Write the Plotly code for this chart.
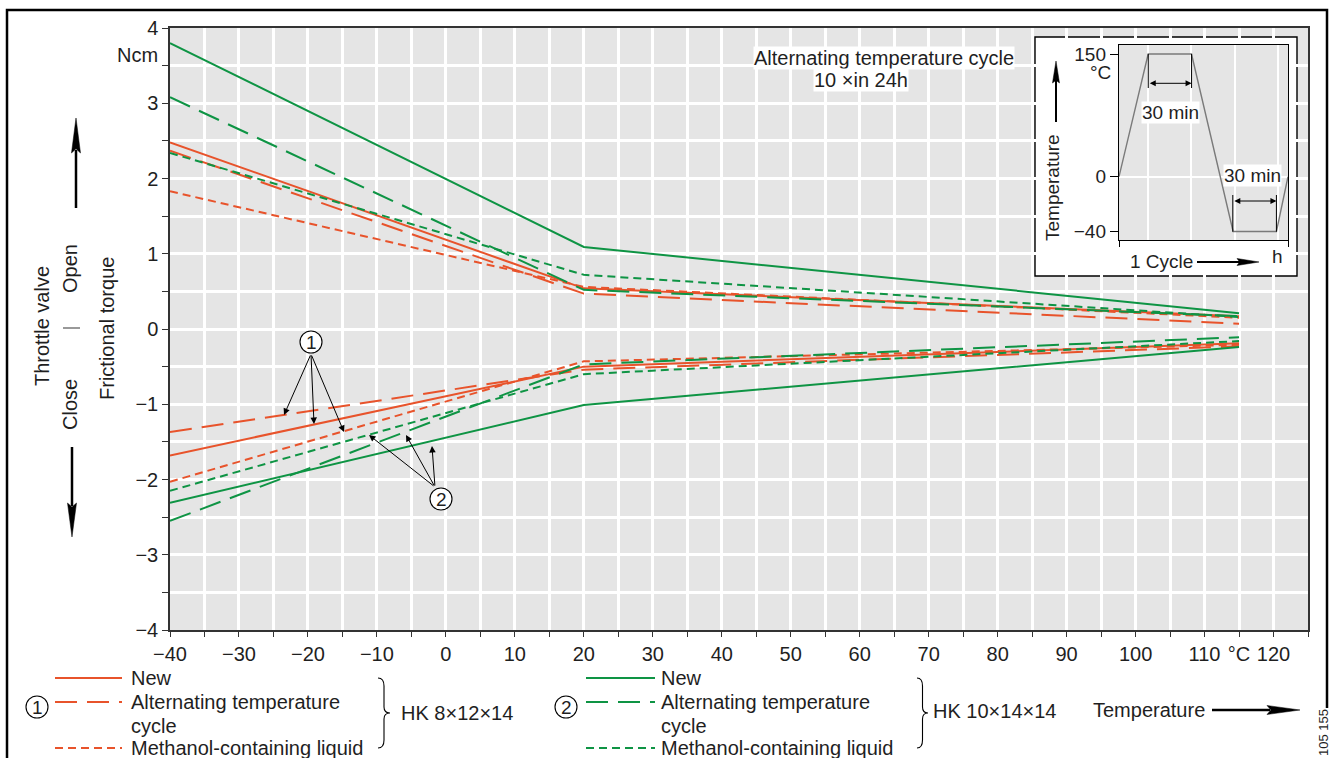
import math
import plotly.graph_objects as go

# ---------------- data ----------------
temps = [-40, 20, 115]          # °C, break points of every curve

# Open direction (positive torque), Ncm
hk8_new_open = [2.48, 0.54, 0.17]
hk8_alt_open = [2.37, 0.47, 0.07]
hk8_meth_open = [1.83, 0.56, 0.15]
hk10_new_open = [3.80, 1.09, 0.21]
hk10_alt_open = [3.08, 0.52, 0.17]
hk10_meth_open = [2.34, 0.72, 0.16]

# Close direction (negative torque), Ncm
hk8_new_close = [-1.68, -0.50, -0.19]
hk8_alt_close = [-1.37, -0.54, -0.23]
hk8_meth_close = [-2.03, -0.43, -0.21]
hk10_new_close = [-2.31, -1.01, -0.24]
hk10_alt_close = [-2.55, -0.47, -0.11]
hk10_meth_close = [-2.15, -0.60, -0.16]

x_ticks = list(range(-40, 126, 5))
y_ticks = [-4 + 0.5 * i for i in range(17)]

# inset: alternating temperature cycle (schematic)
inset_time = [0, 20.2, 50.2, 79, 109, 117]
inset_temp = [0, 150, 150, -40, -40, 0]
inset_levels = [150, 0, -40]
inset_level_pos = [150, 0, -67]     # schematic (not to scale) positions on the inset axis

legend_labels = ["New", "Alternating temperature", "cycle", "Methanol-containing liquid"]

# ---------------- style ----------------
RED = "#e8532b"
GREEN = "#0e9444"
BG = "#e5e5e5"
TXT = "#1f1f1f"
FONT = "Liberation Sans, Arial, sans-serif"
FS = 20
DASH = {"new": "solid", "alt": "22px,10px", "meth": "8px,5px"}

W, H = 1334, 758
PL, PR, PT, PB = 170, 1308, 28, 630


def px(x):
    return (x - PL) / (PR - PL)


def py(y):
    return (PB - y) / (PB - PT)


def dx(p):
    return -40 + (p - PL) / (PR - PL) * 165


def dy(p):
    return 4 - (p - PT) / (PB - PT) * 8


fig = go.Figure()

series = [
    (hk8_new_open, RED, "new"), (hk8_alt_open, RED, "alt"), (hk8_meth_open, RED, "meth"),
    (hk10_new_open, GREEN, "new"), (hk10_alt_open, GREEN, "alt"), (hk10_meth_open, GREEN, "meth"),
    (hk8_new_close, RED, "new"), (hk8_alt_close, RED, "alt"), (hk8_meth_close, RED, "meth"),
    (hk10_new_close, GREEN, "new"), (hk10_alt_close, GREEN, "alt"), (hk10_meth_close, GREEN, "meth"),
]
for ys, col, kind in series:
    fig.add_trace(go.Scatter(x=temps, y=ys, mode="lines",
                             line=dict(color=col, width=2, dash=DASH[kind]),
                             hoverinfo="skip", showlegend=False, xaxis="x", yaxis="y"))

# inset trace
pos_of = dict(zip(inset_levels, inset_level_pos))
fig.add_trace(go.Scatter(x=inset_time, y=[pos_of[t] for t in inset_temp], mode="lines",
                         line=dict(color="#7a7a7a", width=1.4), hoverinfo="skip",
                         showlegend=False, xaxis="x2", yaxis="y2"))


def fmt(v):
    s = str(abs(int(v)))
    return ("\u2212" + s) if v < 0 else s


xt_text = []
for v in x_ticks:
    if v % 10 == 0 and v <= 110:
        xt_text.append(fmt(v))
    elif v == 115:
        xt_text.append("°C")
    elif v == 120:
        xt_text.append("120")
    else:
        xt_text.append("")
yt_text = [fmt(v) if float(v).is_integer() else "" for v in y_ticks]

shapes = []
ann = []


def text(x, y, t, size=FS, xa="center", ya="middle", angle=0, bg=None, ref="paper", **kw):
    d = dict(x=x, y=y, text=t, showarrow=False, xanchor=xa, yanchor=ya, textangle=angle,
             font=dict(family=FONT, size=size, color=TXT), xref=ref if ref == "paper" else ref[0],
             yref=ref if ref == "paper" else ref[1], borderpad=0)
    if bg:
        d["bgcolor"] = bg
    d.update(kw)
    ann.append(d)


def ptext(x, y, t, **kw):
    text(px(x), py(y), t, **kw)


def arrow(x0, y0, x1, y1, hl, hw, lw=2.5, col="black"):
    L = math.hypot(x1 - x0, y1 - y0)
    ux, uy = (x1 - x0) / L, (y1 - y0) / L
    bx, by = x1 - ux * hl, y1 - uy * hl
    nx, ny = -uy, ux
    shapes.append(dict(type="line", xref="paper", yref="paper", layer="above",
                       x0=px(x0), y0=py(y0), x1=px(bx + ux * 3), y1=py(by + uy * 3),
                       line=dict(color=col, width=lw)))
    pts = [(x1, y1), (bx + nx * hw / 2, by + ny * hw / 2), (bx + ux * hl * 0.12, by + uy * hl * 0.12),
           (bx - nx * hw / 2, by - ny * hw / 2)]
    path = "M " + " L ".join(f"{px(a):.5f},{py(b):.5f}" for a, b in pts) + " Z"
    shapes.append(dict(type="path", xref="paper", yref="paper", layer="above", path=path,
                       fillcolor=col, line=dict(color=col, width=0.5)))


def brace(xl, ytop, ybot, w):
    ym = (ytop + ybot) / 2
    xm = xl + w * 0.5
    seg = [("M", [(xl, ytop)]), ("Q", [(xm, ytop), (xm, ytop + 8)]), ("L", [(xm, ym - 6)]),
           ("Q", [(xm, ym), (xl + w, ym)]), ("Q", [(xm, ym), (xm, ym + 6)]), ("L", [(xm, ybot - 8)]),
           ("Q", [(xm, ybot), (xl, ybot)])]
    path = " ".join(c + " " + " ".join(f"{px(a):.5f},{py(b):.5f}" for a, b in p) for c, p in seg)
    shapes.append(dict(type="path", xref="paper", yref="paper", layer="above", path=path,
                       line=dict(color="black", width=1.1)))


def circ_num(cx, cy, n, ref="paper"):
    if ref == "paper":
        xa, ya, r = px(cx), py(cy), ("paper", "paper")
    else:
        xa, ya, r = dx(cx), dy(cy), ("x", "y")
    shapes.append(dict(type="circle", xref=r[0], yref=r[1], xsizemode="pixel", ysizemode="pixel",
                       xanchor=xa, yanchor=ya, x0=-11, x1=11, y0=-11, y1=11, layer="above",
                       fillcolor="white", line=dict(color="black", width=1.1)))
    text(xa, ya, str(n), size=19, ref=r if ref != "paper" else "paper")


# ---------- outer frame ----------
frame = f"M {px(7):.5f},{py(775):.5f} L {px(7):.5f},{py(10):.5f} L {px(1327):.5f},{py(10):.5f} L {px(1327):.5f},{py(708):.5f}"
shapes.append(dict(type="path", xref="paper", yref="paper", layer="above", path=frame,
                   line=dict(color="black", width=2.5)))
ptext(1323, 733, "105 155", size=13, angle=-90)

# ---------- y-axis titles ----------
ptext(159, 55, "Ncm", xa="right")
ptext(42, 326, "Throttle valve", angle=-90)
ptext(70, 269, "Open", angle=-90)
ptext(70, 405, "Close", angle=-90)
shapes.append(dict(type="line", xref="paper", yref="paper", layer="above",
                   x0=px(63), x1=px(80), y0=py(328), y1=py(328), line=dict(color="#555", width=1.2)))
ptext(107, 329, "Frictional torque", angle=-90)
arrow(76, 208, 76, 118, 35, 9)
arrow(72, 447, 72, 537, 34, 9)

# ---------- callouts ----------
circ_num(311, 342, 1, ref="data")
circ_num(441, 499, 2, ref="data")
for (tx, ty) in [(284, 415), (314, 424), (344, 432)]:
    ann.append(dict(x=dx(tx), y=dy(ty), ax=dx(311), ay=dy(354), xref="x", yref="y", axref="x", ayref="y",
                    text="", showarrow=True, arrowhead=2, arrowsize=1.3, arrowwidth=1, arrowcolor="black",
                    standoff=0, startstandoff=0))
for (tx, ty) in [(369, 435), (406, 435), (432, 446)]:
    ann.append(dict(x=dx(tx), y=dy(ty), ax=dx(435), ay=dy(487), xref="x", yref="y", axref="x", ayref="y",
                    text="", showarrow=True, arrowhead=2, arrowsize=1.3, arrowwidth=1, arrowcolor="black",
                    standoff=0, startstandoff=0))

# ---------- note box ----------
ptext(884, 58, "Alternating temperature cycle", bg="white")
ptext(861, 80, "10 \u00d7in 24h", bg="white")

# ---------- inset background boxes (drawn in main plot, under the inset subplot) ----------
shapes.append(dict(type="rect", xref="x", yref="y", layer="below", x0=dx(1026), x1=dx(1308),
                   y0=dy(284), y1=dy(28), fillcolor=BG, line=dict(width=0)))
shapes.append(dict(type="rect", xref="x", yref="y", layer="below", x0=dx(1035), x1=dx(1297),
                   y0=dy(276), y1=dy(37), fillcolor="white", line=dict(color="black", width=1.4)))

# inset annotation
IX0, IXS = 1119, 1.447
IY0, IYS = 176.7, 0.818


def ix(p):
    return (p - IX0) / IXS


def iy(p):
    return (IY0 - p) / IYS


for (xa_, xb_, ytop, ybot, yarr) in [(1148.3, 1191.7, 54, 88, 83.3), (1233, 1276.7, 231.7, 195, 201)]:
    for xx in (xa_, xb_):
        shapes.append(dict(type="line", xref="x2", yref="y2", layer="above", x0=ix(xx), x1=ix(xx),
                           y0=iy(ytop), y1=iy(ybot), line=dict(color="black", width=1)))
    ann.append(dict(x=ix(xb_), y=iy(yarr), ax=ix(xa_), ay=iy(yarr), xref="x2", yref="y2", axref="x2",
                    ayref="y2", text="", showarrow=True, arrowhead=2, arrowsize=1.2, arrowwidth=1,
                    arrowside="end+start", arrowcolor="black", standoff=0, startstandoff=0))
ptext(1170, 113, "30 min", size=19, bg="white")
ptext(1252, 175, "30 min", size=19, bg="white")
ptext(1100, 72, "°C", size=19)
ptext(1053, 188, "Temperature", size=19, angle=-90)
arrow(1056, 122, 1056, 61, 22, 7, lw=2)
ptext(1161, 261, "1 Cycle", size=19)
arrow(1197, 262, 1259, 262, 22, 7, lw=2)
ptext(1277, 256, "h", size=19)

# ---------- legend ----------
rows_y = [678, 702, 726, 748]
line_rows = [(rows_y[0], "new"), (rows_y[1], "alt"), (rows_y[3], "meth")]
for (lx0, lx1, tx, col) in [(55, 122, 130, RED), (586, 655, 660, GREEN)]:
    for yy, kind in line_rows:
        shapes.append(dict(type="line", xref="paper", yref="paper", layer="above", x0=px(lx0), x1=px(lx1),
                           y0=py(yy), y1=py(yy), line=dict(color=col, width=2, dash=DASH[kind])))
    for yy, lab in zip(rows_y, legend_labels):
        ptext(tx, yy, lab, xa="left")
circ_num(37, 707, 1)
circ_num(566, 707, 2)
brace(378, 678, 748, 12)
brace(917, 678, 748, 11)
ptext(400, 713, "HK 8\u00d712\u00d714", xa="left")
ptext(932, 711, "HK 10\u00d714\u00d714", xa="left")
ptext(1092, 710, "Temperature", xa="left")
arrow(1212, 710, 1300, 710, 33, 9)

# ---------- layout ----------
axis_common = dict(showline=True, linecolor="#333", linewidth=1.5, mirror=True, zeroline=False,
                   ticks="outside", tickcolor="#333", tickwidth=1.2,
                   tickfont=dict(family=FONT, size=FS, color=TXT), gridcolor="white")

fig.update_layout(
    width=W, height=H, margin=dict(l=PL, r=W - PR, t=PT, b=H - PB, pad=0),
    paper_bgcolor="white", plot_bgcolor=BG, showlegend=False,
    font=dict(family=FONT, size=FS, color=TXT),
    xaxis=dict(domain=[0, 1], range=[-40, 125], tickmode="array", tickvals=x_ticks, ticktext=xt_text,
               ticklen=5, showgrid=True, gridwidth=2.5, anchor="y", **axis_common),
    yaxis=dict(domain=[0, 1], range=[-4, 4], tickmode="array", tickvals=y_ticks, ticktext=yt_text,
               ticklen=6, showgrid=True, gridwidth=2.5, anchor="x", **axis_common),
    xaxis2=dict(domain=[px(IX0), px(1288)], range=[0, 117], tickmode="array", tickvals=[0, 117],
                ticktext=["", ""], ticklen=6, showgrid=False, anchor="y2",
                minor=dict(tickmode="array", tickvals=[20, 50, 80, 110], showgrid=True,
                           gridcolor="white", gridwidth=2, ticks=""),
                showline=True, linecolor="black", linewidth=1.4, mirror=True, zeroline=False,
                ticks="outside", tickcolor="black", tickwidth=1),
    yaxis2=dict(domain=[py(240), py(45)], range=[iy(240), iy(45)], tickmode="array",
                tickvals=inset_level_pos, ticktext=[fmt(v) for v in inset_levels], ticklen=8,
                showgrid=False, anchor="x2",
                minor=dict(tickmode="array", tickvals=[0], showgrid=True, gridcolor="white",
                           gridwidth=2, ticks=""),
                showline=True, linecolor="black", linewidth=1.4, mirror=True, zeroline=False,
                ticks="outside", tickcolor="black", tickwidth=1,
                tickfont=dict(family=FONT, size=19, color=TXT)),
    shapes=shapes, annotations=ann,
)

fig.write_html("out.html", config={"displayModeBar": False},
               post_script="document.body.style.margin='0';document.body.style.overflow='hidden';")
